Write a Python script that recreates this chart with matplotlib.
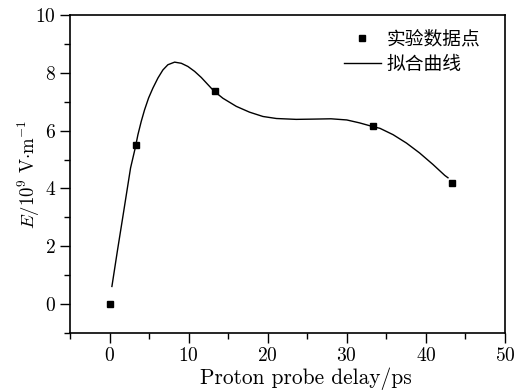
import matplotlib
matplotlib.use("Agg")
import matplotlib.pyplot as plt
from matplotlib.ticker import MultipleLocator

# measured points
delay = [0.0, 3.3, 13.3, 33.3, 43.3]
field = [0.0, 5.5, 7.36, 6.15, 4.2]

# fitted curve
fit_x = [0.3, 1.0, 1.7, 2.66, 3.25, 3.59, 4.01, 4.43, 4.94, 5.48, 6.12, 6.75,
         7.38, 8.23, 9.08, 9.91, 10.76, 11.6, 12.45, 13.2, 14.34, 16.03, 17.7,
         19.4, 21.1, 23.6, 26.0, 28.0, 30.0, 31.6, 33.3, 34.2, 35.86, 37.55,
         39.2, 40.9, 42.4, 42.8]
fit_y = [0.61, 1.85, 3.05, 4.71, 5.4, 5.86, 6.32, 6.72, 7.13, 7.47, 7.82, 8.10,
         8.28, 8.37, 8.33, 8.22, 8.05, 7.84, 7.59, 7.37, 7.12, 6.84, 6.64,
         6.49, 6.42, 6.39, 6.40, 6.41, 6.37, 6.27, 6.14, 6.08, 5.86, 5.57,
         5.23, 4.83, 4.45, 4.37]

plt.rcParams['font.family'] = ['cmr10', 'Noto Sans CJK SC', 'DejaVu Sans']
plt.rcParams['mathtext.fontset'] = 'cm'
plt.rcParams['axes.formatter.use_mathtext'] = True

fig = plt.figure(figsize=(5.2, 3.92), dpi=100)
ax = fig.add_axes([0.1346, 0.1505, 0.971 - 0.1346, 0.9617 - 0.1505])

ax.plot(delay, field, 's', color='black', markersize=5, label='实验数据点', zorder=3)
ax.plot(fit_x, fit_y, '-', color='black', linewidth=1.0, label='拟合曲线')

ax.set_xlim(-5, 50)
ax.set_ylim(-1, 10)
ax.xaxis.set_major_locator(MultipleLocator(10))
ax.xaxis.set_minor_locator(MultipleLocator(5))
ax.yaxis.set_major_locator(MultipleLocator(2))
ax.yaxis.set_minor_locator(MultipleLocator(1))
ax.tick_params(which='both', direction='out', top=False, right=False, labelsize=14)
ax.tick_params(which='major', length=7, width=1.0, pad=3)
ax.tick_params(which='minor', length=4, width=1.0)
for s in ax.spines.values():
    s.set_linewidth(1.2)

ax.set_xlabel('Proton probe delay/ps', fontsize=15.4)
ax.xaxis.set_label_coords(0.5425, -0.11)
ax.set_ylabel(r'$E/10^9\ \mathrm{V{\cdot}m^{-1}}$', fontsize=13.5)
ax.yaxis.set_label_coords(-0.065, 0.5)

leg = ax.legend(loc='upper right', frameon=False, prop={'family': 'Noto Sans CJK SC', 'size': 13.5},
                handlelength=2.0, handletextpad=0.3, labelspacing=0.25,
                borderaxespad=0.3, bbox_to_anchor=(0.974, 1.0))

fig.savefig('out.png', dpi=100)
